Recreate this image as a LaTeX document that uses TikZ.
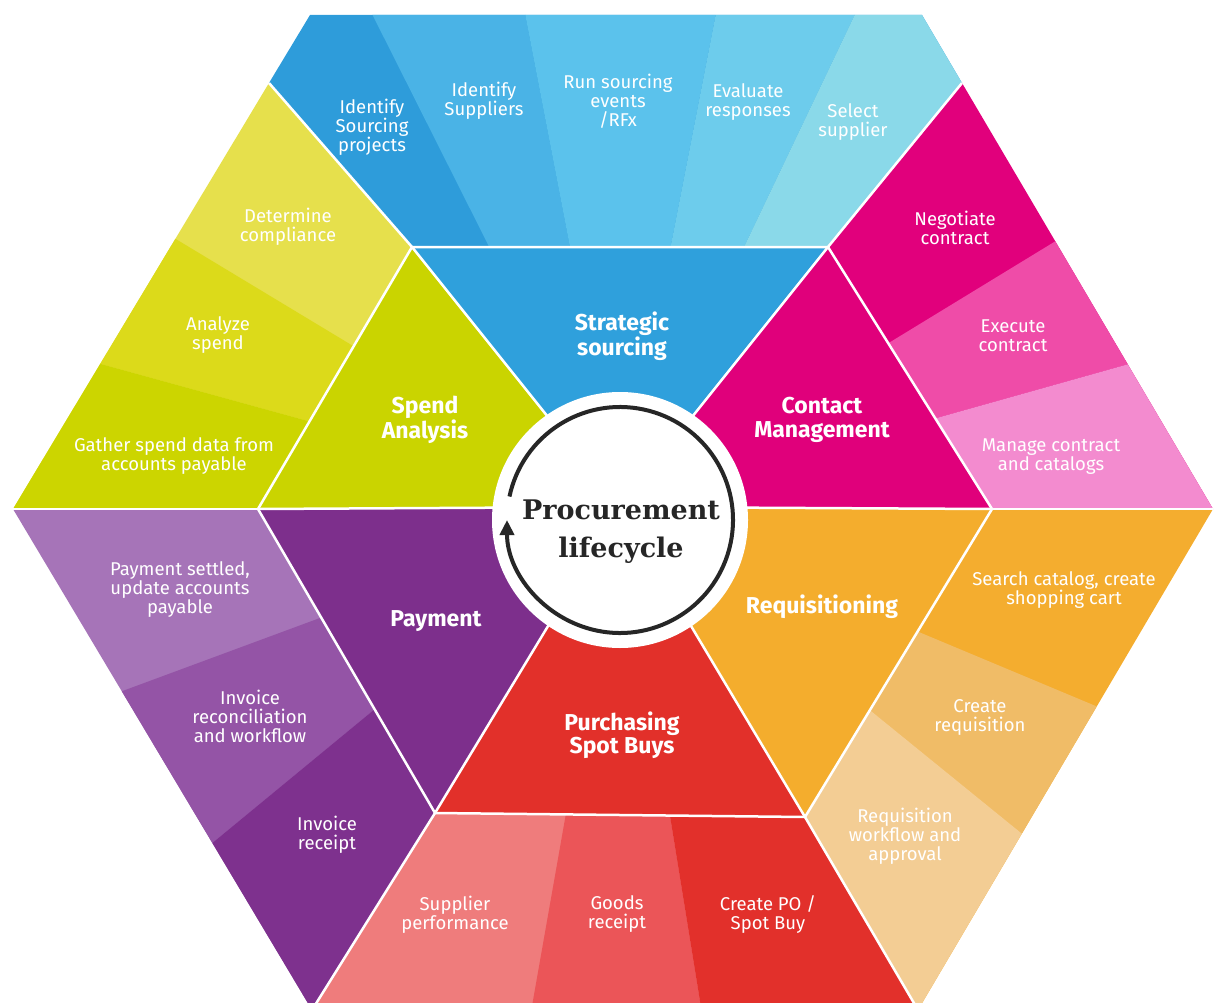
\documentclass[tikz,border=0pt]{standalone}
\usepackage{fontspec}
\setmainfont{Fira Sans}
\newfontfamily\cyclefont{DejaVu Serif}
\usetikzlibrary{arrows.meta}

% band colours
\definecolor{srcone}{HTML}{2E9CDA}
\definecolor{srctwo}{HTML}{4AB3E6}
\definecolor{srcthree}{HTML}{5BC2EC}
\definecolor{srcfour}{HTML}{6DCCEC}
\definecolor{srcfive}{HTML}{8AD9E9}
\definecolor{srctri}{HTML}{2FA0DC}
\definecolor{spdone}{HTML}{E6E04C}
\definecolor{spdtwo}{HTML}{DCDA1A}
\definecolor{spdthree}{HTML}{CCD500}
\definecolor{spdtri}{HTML}{CAD400}
\definecolor{conone}{HTML}{E1007C}
\definecolor{contwo}{HTML}{EF4CA8}
\definecolor{conthree}{HTML}{F38BCF}
\definecolor{contri}{HTML}{E0007B}
\definecolor{payone}{HTML}{A674B8}
\definecolor{paytwo}{HTML}{9454A6}
\definecolor{paythree}{HTML}{7E318E}
\definecolor{paytri}{HTML}{7D2F8C}
\definecolor{reqone}{HTML}{F4AD2F}
\definecolor{reqtwo}{HTML}{F0BC67}
\definecolor{reqthree}{HTML}{F3CD94}
\definecolor{reqtri}{HTML}{F4AD2D}
\definecolor{purone}{HTML}{EF7C7C}
\definecolor{purtwo}{HTML}{EB5558}
\definecolor{purthree}{HTML}{E2302B}
\definecolor{purtri}{HTML}{E2302A}
\definecolor{ringgray}{HTML}{262626}

\begin{document}
\begin{tikzpicture}[x=1pt,y=-1pt,
  substep/.style={text=white, align=center, inner sep=0pt, font=\fontsize{18.5}{19}\selectfont},
  phase/.style={text=white, align=center, inner sep=0pt, font=\bfseries\fontsize{23}{23.5}\selectfont},
  seam/.style={draw=white, line width=2.5pt, line join=round}]
\useasboundingbox (0,0) rectangle (1223,1003);
% corner points
\coordinate (f) at (620,507);
\coordinate (p1) at (412,247);
\coordinate (p2) at (828,247);
\coordinate (p3) at (992,509);
\coordinate (p4) at (805,817);
\coordinate (p5) at (435,813);
\coordinate (p6) at (258,509);
\coordinate (o1) at (310,15);
\coordinate (o2) at (922,15);
\coordinate (o3) at (1213,509);
\coordinate (o4) at (918,1010);
\coordinate (o5) at (312,1010);
\coordinate (o6) at (13,509);
\coordinate (s1) at (269,83);
\coordinate (s2) at (962,83);
% draw sourcing band
\begin{scope}
\clip (p1) -- (s1) -- (o1) -- (o2) -- (s2) -- (p2) -- cycle;
\fill[srcone] (0,0) rectangle (1223,400);
\fill[srctwo] (f) -- +(-116.7:900) -- +(-100.9:900) -- cycle;
\fill[srcthree] (f) -- +(-100.9:900) -- +(-79:900) -- cycle;
\fill[srcfour] (f) -- +(-79:900) -- +(-64.5:900) -- cycle;
\fill[srcfive] (f) -- +(-64.5:900) -- +(-20:900) -- cycle;
\end{scope}
% draw spend band
\begin{scope}
\clip (s1) -- (p1) -- (p6) -- (o6) -- cycle;
\fill[spdone] (0,0) rectangle (500,600);
\fill[spdtwo] (f) -- +(-148.9:900) -- +(-164.6:900) -- cycle;
\fill[spdthree] (f) -- +(-164.6:900) -- +(-200:900) -- cycle;
\end{scope}
% draw contract band
\begin{scope}
\clip (s2) -- (o3) -- (p3) -- (p2) -- cycle;
\fill[conone] (700,0) rectangle (1223,600);
\fill[contwo] (f) -- +(-31.4:900) -- +(-15.7:900) -- cycle;
\fill[conthree] (f) -- +(-15.7:900) -- +(20:900) -- cycle;
\end{scope}
% draw payment band
\begin{scope}
\clip (o6) -- (p6) -- (p5) -- (o5) -- cycle;
\fill[payone] (0,450) rectangle (500,1010);
\fill[paytwo] (f) -- +(159.7:900) -- +(140.5:900) -- cycle;
\fill[paythree] (f) -- +(140.5:900) -- +(110:900) -- cycle;
\end{scope}
% draw requisition band
\begin{scope}
\clip (p3) -- (o3) -- (o4) -- (p4) -- cycle;
\fill[reqone] (700,450) rectangle (1223,1010);
\fill[reqtwo] (f) -- +(22.7:900) -- +(39.1:900) -- cycle;
\fill[reqthree] (f) -- +(39.1:900) -- +(70:900) -- cycle;
\end{scope}
% draw purchasing band
\begin{scope}
\clip (p5) -- (p4) -- (o4) -- (o5) -- cycle;
\fill[purone] (250,750) rectangle (950,1010);
\fill[purtwo] (f) -- +(100:900) -- +(80.8:900) -- cycle;
\fill[purthree] (f) -- +(80.8:900) -- +(50:900) -- cycle;
\end{scope}
% draw inner triangles
\fill[srctri] (p1) -- (p2) -- (f) -- cycle;
\fill[contri] (p2) -- (p3) -- (f) -- cycle;
\fill[reqtri] (p3) -- (p4) -- (f) -- cycle;
\fill[purtri] (p4) -- (p5) -- (f) -- cycle;
\fill[paytri] (p5) -- (p6) -- (f) -- cycle;
\fill[spdtri] (p6) -- (p1) -- (f) -- cycle;
% draw seams
\draw[seam] (p1) -- (p2) -- (p3) -- (p4) -- (p5) -- (p6) -- cycle;
\draw[seam] (p1) -- (f) -- (p2);
\draw[seam] (p3) -- (f) -- (p4);
\draw[seam] (p5) -- (f) -- (p6);
\draw[seam] (p1) -- (s1);
\draw[seam] (p2) -- (s2);
\draw[seam] (p3) -- (o3);
\draw[seam] (p6) -- (o6);
\draw[seam] (p4) -- (o4);
\draw[seam] (p5) -- (o5);
% draw hub
\node[circle, fill=white, minimum size=256pt, inner sep=0pt] (hub) at (620,520) {};
\draw[line width=4pt, ringgray, -{Triangle[length=15pt,width=14pt]}] (620,520) ++(-168:113) arc[start angle=-168, end angle=180, radius=113];
\node[align=center, inner sep=0pt, text=ringgray, font=\cyclefont\bfseries\fontsize{27}{38}\selectfont] (cycle) at (621,532) {Procurement\\lifecycle};
% draw phase labels
\node[phase] (strat) at (622,336) {Strategic\\sourcing};
\node[phase] (spend) at (425,420) {Spend\\Analysis};
\node[phase] (contact) at (822,420) {Contact\\Management};
\node[phase] (payment) at (436,621) {Payment};
\node[phase] (requis) at (822,607) {Requisitioning};
\node[phase] (purch) at (622,735) {Purchasing\\Spot Buys};
% draw step labels
\node[substep] (idproj) at (372,127) {Identify\\Sourcing\\projects};
\node[substep] (idsupp) at (484,101) {Identify\\Suppliers};
\node[substep] (runrfx) at (618,101) {Run sourcing\\events\\/RFx};
\node[substep] (evalresp) at (748,102) {Evaluate\\responses};
\node[substep] (selsupp) at (853,122) {Select\\supplier};
\node[substep] (detcomp) at (288,227) {Determine\\compliance};
\node[substep] (anaspend) at (218,335) {Analyze\\spend};
\node[substep] (gather) at (174,456) {Gather spend data from\\accounts payable};
\node[substep] (negot) at (955,228) {Negotiate\\contract};
\node[substep] (execc) at (1013,336) {Execute\\contract};
\node[substep] (managec) at (1051,457) {Manage contract\\and catalogs};
\node[substep] (paysettled) at (180,590) {Payment settled,\\update accounts\\payable};
\node[substep] (invrecon) at (250,716) {Invoice\\reconciliation\\and workflow};
\node[substep] (invrec) at (327,835) {Invoice\\receipt};
\node[substep] (searchcat) at (1064,590) {Search catalog, create\\shopping cart};
\node[substep] (createreq) at (980,717) {Create\\requisition};
\node[substep] (reqflow) at (905,836) {Requisition\\workflow and\\approval};
\node[substep] (supperf) at (455,915) {Supplier\\performance};
\node[substep] (goodsrec) at (617,914) {Goods\\receipt};
\node[substep] (createpo) at (768,914) {Create PO /\\Spot Buy};
\end{tikzpicture}
\end{document}
